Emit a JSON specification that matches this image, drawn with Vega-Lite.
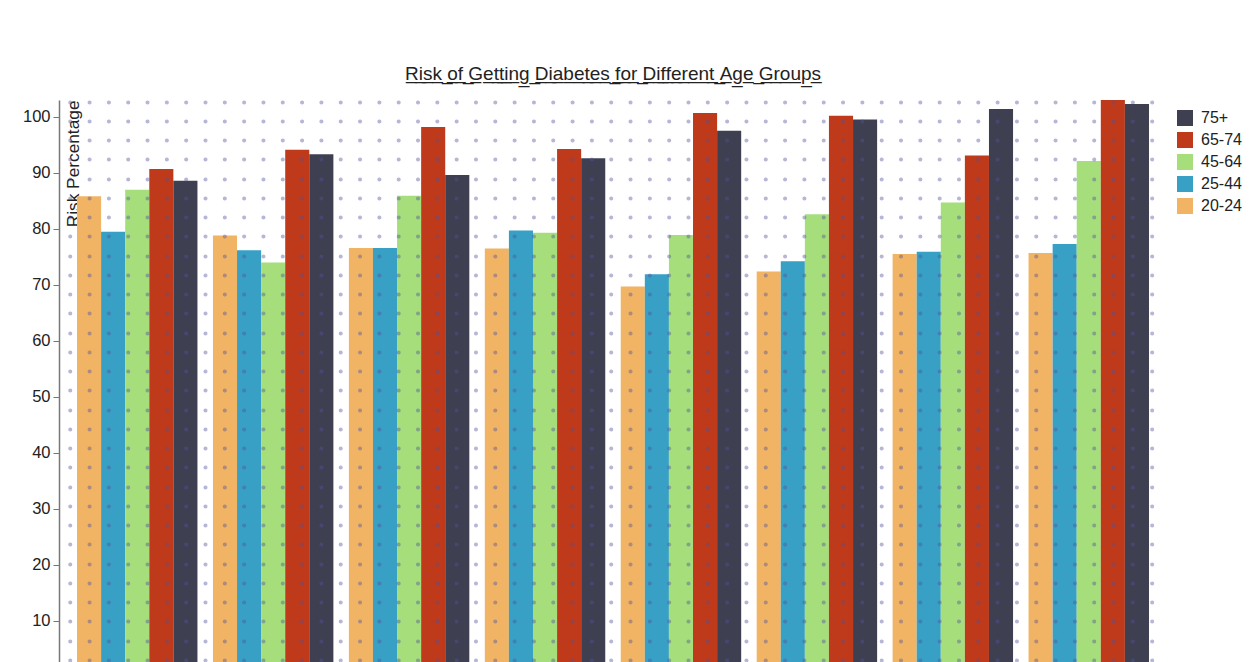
{
  "$schema": "https://vega.github.io/schema/vega-lite/v6.json",
  "width": 1108,
  "height": 577,
  "autosize": {"type": "none"},
  "padding": {"left": 59, "top": 100, "right": 86, "bottom": 0},
  "background": "white",
  "config": {
    "font": "Liberation Sans",
    "view": {"stroke": null}
  },
  "title": {
    "text": "R̲i̲s̲k̲ ̲o̲f̲ ̲G̲e̲t̲t̲i̲n̲g̲ ̲D̲i̲a̲b̲e̲t̲e̲s̲ ̲f̲o̲r̲ ̲D̲i̲f̲f̲e̲r̲e̲n̲t̲ ̲A̲g̲e̲ ̲G̲r̲o̲u̲p̲s̲",
    "anchor": "middle",
    "fontSize": 19,
    "fontWeight": "normal",
    "color": "#222222",
    "offset": 16
  },
  "data": {
    "values": [
      {"group": "g1", "age": "20-24", "risk": 85.8},
      {"group": "g1", "age": "25-44", "risk": 79.5},
      {"group": "g1", "age": "45-64", "risk": 87.0},
      {"group": "g1", "age": "65-74", "risk": 90.7},
      {"group": "g1", "age": "75+", "risk": 88.6},
      {"group": "g2", "age": "20-24", "risk": 78.8},
      {"group": "g2", "age": "25-44", "risk": 76.2},
      {"group": "g2", "age": "45-64", "risk": 74.0},
      {"group": "g2", "age": "65-74", "risk": 94.1},
      {"group": "g2", "age": "75+", "risk": 93.3},
      {"group": "g3", "age": "20-24", "risk": 76.6},
      {"group": "g3", "age": "25-44", "risk": 76.6},
      {"group": "g3", "age": "45-64", "risk": 85.9},
      {"group": "g3", "age": "65-74", "risk": 98.2},
      {"group": "g3", "age": "75+", "risk": 89.6},
      {"group": "g4", "age": "20-24", "risk": 76.5},
      {"group": "g4", "age": "25-44", "risk": 79.7},
      {"group": "g4", "age": "45-64", "risk": 79.3},
      {"group": "g4", "age": "65-74", "risk": 94.25},
      {"group": "g4", "age": "75+", "risk": 92.6},
      {"group": "g5", "age": "20-24", "risk": 69.7},
      {"group": "g5", "age": "25-44", "risk": 71.9},
      {"group": "g5", "age": "45-64", "risk": 78.9},
      {"group": "g5", "age": "65-74", "risk": 100.7},
      {"group": "g5", "age": "75+", "risk": 97.5},
      {"group": "g6", "age": "20-24", "risk": 72.4},
      {"group": "g6", "age": "25-44", "risk": 74.2},
      {"group": "g6", "age": "45-64", "risk": 82.6},
      {"group": "g6", "age": "65-74", "risk": 100.2},
      {"group": "g6", "age": "75+", "risk": 99.5},
      {"group": "g7", "age": "20-24", "risk": 75.5},
      {"group": "g7", "age": "25-44", "risk": 75.9},
      {"group": "g7", "age": "45-64", "risk": 84.7},
      {"group": "g7", "age": "65-74", "risk": 93.1},
      {"group": "g7", "age": "75+", "risk": 101.4},
      {"group": "g8", "age": "20-24", "risk": 75.7},
      {"group": "g8", "age": "25-44", "risk": 77.3},
      {"group": "g8", "age": "45-64", "risk": 92.1},
      {"group": "g8", "age": "65-74", "risk": 103.0},
      {"group": "g8", "age": "75+", "risk": 102.3}
    ]
  },
  "resolve": {"axis": {"y": "independent"}},
  "layer": [
    {
      "mark": {"type": "bar"},
      "encoding": {
        "x": {
          "field": "group",
          "type": "nominal",
          "axis": null,
          "scale": {"paddingInner": 0.114, "paddingOuter": 0.1325}
        },
        "xOffset": {
          "field": "age",
          "type": "nominal",
          "sort": ["20-24", "25-44", "45-64", "65-74", "75+"],
          "scale": {"paddingInner": 0, "paddingOuter": 0}
        },
        "y": {
          "field": "risk",
          "type": "quantitative",
          "scale": {"domain": [0, 103], "nice": false},
          "axis": {
            "values": [10, 20, 30, 40, 50, 60, 70, 80, 90, 100],
            "grid": false,
            "title": "Risk Percentage",
            "titleFontSize": 17.3,
            "titleFontWeight": "normal",
            "titleColor": "#222222",
            "titleAnchor": "end",
            "titleAlign": "right",
            "titleBaseline": "top",
            "titleAngle": 270,
            "titleX": 5.5,
            "titleY": 0,
            "labelFontSize": 16.5,
            "labelColor": "#222222",
            "labelPadding": 3,
            "tickSize": 6,
            "tickColor": "#777777",
            "domainColor": "#777777",
            "domainWidth": 1.5
          }
        },
        "color": {
          "field": "age",
          "type": "nominal",
          "scale": {
            "domain": ["75+", "65-74", "45-64", "25-44", "20-24"],
            "range": ["#3e4052", "#be3a1a", "#a6de7c", "#37a0c4", "#f0b464"]
          },
          "legend": {
            "title": null,
            "orient": "none",
            "legendX": 1118,
            "legendY": 10,
            "padding": 0,
            "symbolType": "square",
            "symbolSize": 256,
            "symbolStrokeWidth": 0,
            "symbolOpacity": 1,
            "labelFontSize": 16,
            "labelColor": "#222222",
            "labelOffset": 8,
            "rowPadding": 6
          }
        }
      }
    },
    {
      "mark": {"type": "rule", "strokeOpacity": 0},
      "encoding": {
        "y": {
          "datum": 0,
          "type": "quantitative",
          "axis": {
            "orient": "left",
            "title": null,
            "labels": false,
            "ticks": false,
            "domain": false,
            "grid": true,
            "values": [3.04, 6.47, 9.91, 13.35, 16.79, 20.22, 23.66, 27.10, 30.54, 33.97, 37.41, 40.85, 44.29, 47.72, 51.16, 54.60, 58.04, 61.47, 64.91, 68.35, 71.79, 75.22, 78.66, 82.10, 85.54, 88.97, 92.41, 95.85, 99.29, 102.72],
            "gridColor": "#50509e",
            "gridOpacity": 0.42,
            "gridWidth": 4,
            "gridCap": "round",
            "gridDash": [0.1, 19.22],
            "gridDashOffset": 8.62,
            "zindex": 1
          }
        }
      }
    }
  ]
}
